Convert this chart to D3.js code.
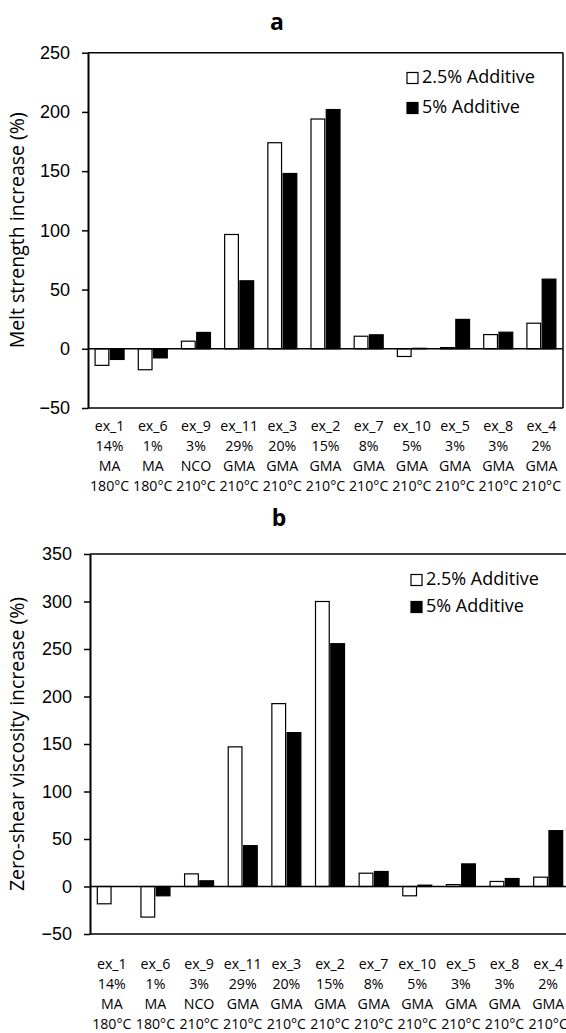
<!DOCTYPE html>
<html>
<head>
<meta charset="utf-8">
<script src="https://d3js.org/d3.v7.min.js"></script>
<style>
  body { margin: 0; background: #fff; }
  svg { display: block; font-family: "Open Sans", sans-serif; }
  .tick text { font-size: 18px; fill: #000; }
  .cat { font-size: 14.2px; text-anchor: middle; }
  .legend text { font-size: 18px; }
</style>
</head>
<body>
<script>
// categories, four label lines each
var catIds   = ["ex_1", "ex_6", "ex_9", "ex_11", "ex_3", "ex_2", "ex_7", "ex_10", "ex_5", "ex_8", "ex_4"];
var catPct   = ["14%", "1%", "3%", "29%", "20%", "15%", "8%", "5%", "3%", "3%", "2%"];
var catAdd   = ["MA", "MA", "NCO", "GMA", "GMA", "GMA", "GMA", "GMA", "GMA", "GMA", "GMA"];
var catTemp  = ["180°C", "180°C", "210°C", "210°C", "210°C", "210°C", "210°C", "210°C", "210°C", "210°C", "210°C"];

var seriesNames = ["2.5% Additive", "5% Additive"];

// panel a: melt strength increase (%)
var meltLow  = [-14, -17.7, 6.4, 96.5, 174, 194, 10.6, -6.5, 1, 12, 21.6];
var meltHigh = [-9, -7.7, 13.8, 57.4, 148, 202, 11.8, 0.4, 24.8, 14, 58.8];
var meltTicks = [-50, 0, 50, 100, 150, 200, 250];

// panel b: zero-shear viscosity increase (%)
var viscLow  = [-18.2, -32.2, 13.3, 147, 192.5, 300, 14, -9.8, 2, 5.3, 9.8];
var viscHigh = [0, -9.8, 6, 43, 162, 255.6, 15.8, 1.4, 23.8, 8.4, 58.8];
var viscTicks = [-50, 0, 50, 100, 150, 200, 250, 300, 350];

var svg = d3.select("body").append("svg")
  .attr("width", 566)
  .attr("height", 1033);

function panel(opt) {
  var g = svg.append("g");
  var x = d3.scaleBand().domain(catIds).range([opt.left, opt.right]);
  var y = d3.scaleLinear().domain([opt.ticks[0], opt.ticks[opt.ticks.length - 1]]).range([opt.bottom, opt.top]);
  var groupW = 29;
  var x1 = d3.scaleBand().domain([0, 1]).range([0, groupW]).paddingInner(0.1);
  var off = (x.bandwidth() - groupW) / 2;

  // title
  g.append("text")
    .attr("x", opt.titleX).attr("y", opt.titleY)
    .attr("text-anchor", "middle")
    .style("font-size", "23px").style("font-weight", "bold")
    .text(opt.title);

  // frame: top, right, bottom
  g.append("line").attr("x1", opt.left).attr("x2", opt.right).attr("y1", opt.top).attr("y2", opt.top)
    .attr("stroke", "#000").attr("stroke-width", 1.5);
  g.append("line").attr("x1", opt.right).attr("x2", opt.right).attr("y1", opt.top).attr("y2", opt.bottom)
    .attr("stroke", "#000").attr("stroke-width", 1.5);
  g.append("line").attr("x1", opt.left).attr("x2", opt.right).attr("y1", opt.bottom).attr("y2", opt.bottom)
    .attr("stroke", "#000").attr("stroke-width", 1.5);

  var series = [opt.low, opt.high];
  series.forEach(function(vals, s) {
    g.selectAll(".bar" + s)
      .data(vals)
      .enter().append("rect")
      .attr("x", function(d, i) { return x(catIds[i]) + off + x1(s); })
      .attr("width", x1.bandwidth())
      .attr("y", function(d) { return y(Math.max(0, d)); })
      .attr("height", function(d) { return Math.abs(y(d) - y(0)); })
      .attr("fill", s === 0 ? "#fff" : "#000")
      .attr("stroke", "#000")
      .attr("stroke-width", 1.2);
  });

  // zero line
  g.append("line").attr("x1", opt.left).attr("x2", opt.right).attr("y1", y(0)).attr("y2", y(0))
    .attr("stroke", "#000").attr("stroke-width", 1.5);

  // y axis
  var yAxis = d3.axisLeft(y).tickValues(opt.ticks).tickSize(6).tickPadding(12).tickSizeOuter(0);
  var ax = g.append("g").attr("transform", "translate(" + opt.left + ",0)").call(yAxis);
  ax.select(".domain").attr("stroke-width", 2);
  ax.selectAll(".tick line").attr("stroke-width", 1.5);

  g.append("text")
    .attr("transform", "translate(" + opt.yTitleX + "," + ((opt.top + opt.bottom) / 2) + ") rotate(-90)")
    .attr("text-anchor", "middle")
    .attr("dominant-baseline", "middle")
    .style("font-size", "19.5px")
    .text(opt.yTitle);

  // category labels
  var lines = [catIds, catPct, catAdd, catTemp];
  lines.forEach(function(arr, li) {
    g.selectAll(".cat" + li)
      .data(arr)
      .enter().append("text")
      .attr("class", "cat")
      .attr("x", function(d, i) { return x(catIds[i]) + x.bandwidth() / 2; })
      .attr("y", opt.labelY + li * opt.labelStep)
      .attr("dominant-baseline", "middle")
      .text(function(d) { return d; });
  });

  // legend
  var lg = g.append("g").attr("class", "legend");
  seriesNames.forEach(function(name, s) {
    var cy = opt.legendY + s * opt.legendStep;
    lg.append("rect")
      .attr("x", opt.legendX).attr("y", cy - 5.5)
      .attr("width", 11).attr("height", 11)
      .attr("fill", s === 0 ? "#fff" : "#000")
      .attr("stroke", "#000").attr("stroke-width", 1.2);
    lg.append("text")
      .attr("x", opt.legendX + 15).attr("y", cy)
      .attr("dominant-baseline", "middle")
      .text(name);
  });
}

panel({
  title: "a", titleX: 277, titleY: 30,
  left: 88, right: 563, top: 52.7, bottom: 408,
  ticks: meltTicks, low: meltLow, high: meltHigh,
  yTitle: "Melt strength increase (%)", yTitleX: 19,
  labelY: 427, labelStep: 20,
  legendX: 407, legendY: 78, legendStep: 30
});

panel({
  title: "b", titleX: 279, titleY: 526,
  left: 90, right: 570, top: 554, bottom: 934,
  ticks: viscTicks, low: viscLow, high: viscHigh,
  yTitle: "Zero-shear viscosity increase (%)", yTitleX: 19,
  labelY: 965, labelStep: 20,
  legendX: 411, legendY: 580, legendStep: 27
});
</script>
</body>
</html>
